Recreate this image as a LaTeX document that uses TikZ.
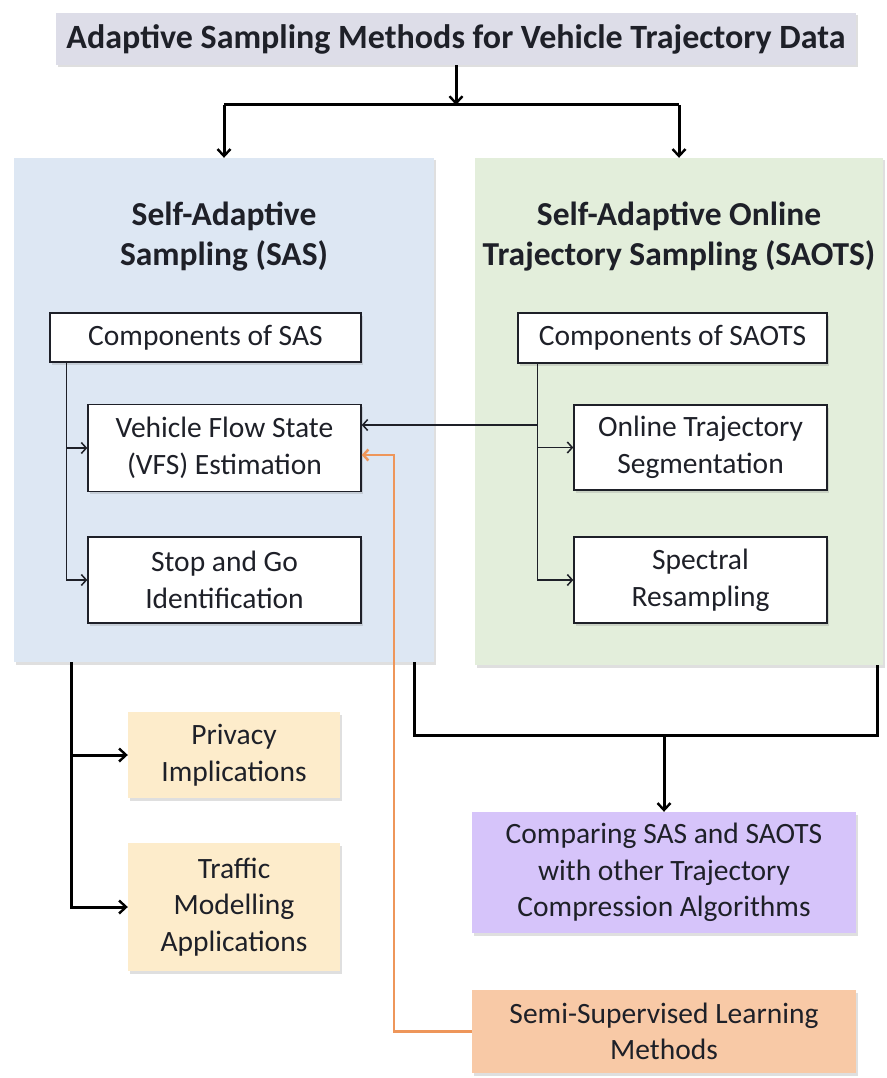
\documentclass[tikz,border=0pt]{standalone}
\usepackage{fontspec}
\setmainfont{Carlito}
\usetikzlibrary{arrows.meta,shadows}

\definecolor{titlegrey}{RGB}{221,221,232}
\definecolor{sasblue}{RGB}{221,231,243}
\definecolor{saotsgreen}{RGB}{227,238,219}
\definecolor{appyellow}{RGB}{253,236,203}
\definecolor{comppurple}{RGB}{214,196,250}
\definecolor{semiorange}{RGB}{248,201,166}
\definecolor{linkorange}{RGB}{238,150,90}
\definecolor{inkdark}{RGB}{30,32,40}

\tikzset{
  softshadow/.style={
    drop shadow={shadow xshift=2pt, shadow yshift=-2.5pt, opacity=0.25}
  },
  header/.style={
    shape = rectangle,
    fill = titlegrey,
    softshadow,
    text = inkdark,
    font = \fontsize{34}{40}\selectfont\bfseries
  },
  panel/.style={
    shape = rectangle,
    inner sep = 0pt,
    softshadow
  },
  paneltitle/.style={
    align = center,
    text = inkdark,
    font = \fontsize{33.5}{40}\selectfont\bfseries
  },
  part/.style={
    shape = rectangle,
    draw = inkdark,
    line width = 1.4pt,
    fill = white,
    softshadow,
    align = center,
    inner sep = 0pt,
    text = inkdark,
    font = \fontsize{29.5}{37}\selectfont
  },
  outcome/.style={
    shape = rectangle,
    softshadow,
    align = center,
    inner sep = 0pt,
    text = inkdark,
    font = \fontsize{29.5}{36.5}\selectfont
  },
  bigarrow/.style={
    line width = 3pt,
    -{Straight Barb[length=7pt,width=13pt,line width=2.4pt]}
  },
  bigline/.style={
    line width = 3pt
  },
  fork/.style={
    line width = 1.5pt,
    draw = inkdark,
    -{Straight Barb[length=5pt,width=11pt]}
  },
  feedback/.style={
    line width = 2.5pt,
    draw = linkorange,
    -{Straight Barb[length=5pt,width=11pt]}
  }
}

\begin{document}
\begin{tikzpicture}[x=1pt,y=-1pt]
  \useasboundingbox (0,0) rectangle (886,1078);

  % top level
  \node[header, minimum width=800pt, minimum height=52pt] (title) at (456,39)
    {Adaptive Sampling Methods for Vehicle Trajectory Data};

  % the two methods
  \node[panel, fill=sasblue, minimum width=420pt, minimum height=504pt] (sas) at (224,410) {};
  \node[panel, fill=saotsgreen, minimum width=408pt, minimum height=507pt] (saots) at (679,411.5) {};
  \node[paneltitle] (sastitle) at (224,237) {Self-Adaptive\\Sampling (SAS)};
  \node[paneltitle] (saotstitle) at (679,237) {Self-Adaptive Online\\Trajectory Sampling (SAOTS)};

  % components of SAS
  \node[part, minimum width=311pt, minimum height=49pt] (compsas) at (205.5,337.5) {Components of SAS};
  \node[part, minimum width=273pt, minimum height=87pt] (vfs) at (224.5,448) {Vehicle Flow State\\(VFS) Estimation};
  \node[part, minimum width=273pt, minimum height=86pt] (stopgo) at (224.5,580) {Stop and Go\\Identification};

  % components of SAOTS
  \node[part, minimum width=309pt, minimum height=50pt] (compsaots) at (672.5,338) {Components of SAOTS};
  \node[part, minimum width=253pt, minimum height=85pt] (ots) at (700.5,447.5) {Online Trajectory\\Segmentation};
  \node[part, minimum width=253pt, minimum height=86pt] (spec) at (700.5,580) {Spectral\\Resampling};

  % outcomes
  \node[outcome, fill=appyellow, minimum width=212pt, minimum height=86pt] (privacy) at (234,755) {Privacy\\Implications};
  \node[outcome, fill=appyellow, minimum width=212pt, minimum height=128pt] (traffic) at (234,907) {Traffic\\Modelling\\Applications};
  \node[outcome, fill=comppurple, minimum width=384pt, minimum height=121pt] (compare) at (664,872.5)
    {Comparing SAS and SAOTS\\with other Trajectory\\Compression Algorithms};
  \node[outcome, fill=semiorange, minimum width=384pt, minimum height=83pt] (semi) at (664,1031.5)
    {Semi-Supervised Learning\\Methods};

  % split from the title
  \coordinate (split) at (title.south |- 0,105);
  \draw[bigarrow] (title.south) -- (split);
  \draw[bigline] (split -| sas.north) -- (split -| saots.north);
  \draw[bigarrow] (split -| sas.north) -- (sas.north);
  \draw[bigarrow] (split -| saots.north) -- (saots.north);

  % inner forks
  \coordinate (sasfork) at ([xshift=17pt]compsas.south west);
  \draw[fork] (sasfork) |- (vfs.west);
  \draw[fork] (sasfork) |- (stopgo.west);
  \coordinate (saotsfork) at ([xshift=20pt]compsaots.south west);
  \draw[fork] (saotsfork) |- (ots.west);
  \draw[fork] (saotsfork) |- (spec.west);
  \coordinate (tap) at (saotsfork |- 0,425);
  \draw[fork] (tap) -- (tap -| vfs.east);

  % feedback from semi-supervised learning
  \coordinate (bend) at (394,455);
  \draw[feedback] (semi.west) -| (bend) -- (bend -| vfs.east);

  % SAS applications
  \coordinate (sasout) at ([xshift=58pt]sas.south west);
  \draw[bigarrow] (sasout) |- (privacy.west);
  \draw[bigarrow] (sasout) |- (traffic.west);

  % merge into comparison
  \coordinate (sasmerge) at ([xshift=-20pt]sas.south east);
  \coordinate (saotsmerge) at ([xshift=-6pt]saots.south east);
  \coordinate (merge) at (compare.north |- 0,735);
  \draw[bigline] (sasmerge) |- (merge) -| (saotsmerge);
  \draw[bigarrow] (merge) -- (compare.north);
\end{tikzpicture}
\end{document}
